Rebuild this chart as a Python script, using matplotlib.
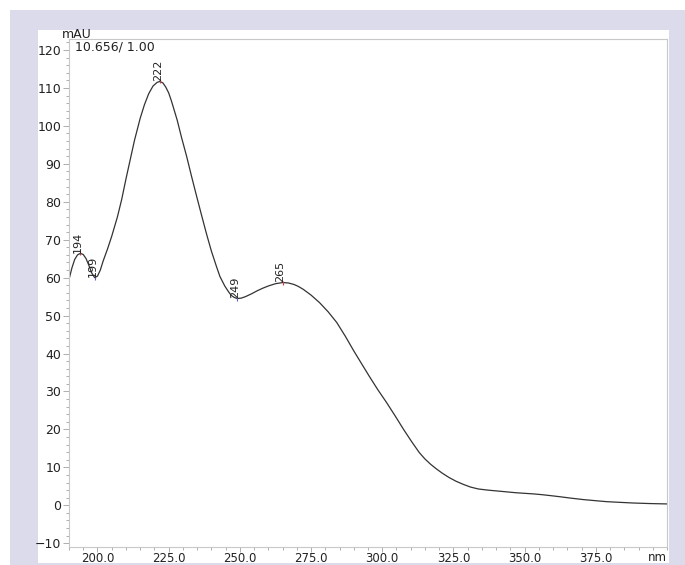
import matplotlib
matplotlib.use('Agg')
import matplotlib.pyplot as plt
from matplotlib.patches import Rectangle
from matplotlib.ticker import MultipleLocator, FixedLocator

# spectrum (nm, mAU)
wavelength = [190, 191, 192, 193, 194, 195, 196, 197, 198, 199, 200, 201, 202, 203.5,
              205, 207, 208.5, 210, 211.5, 213, 215, 216.5, 218, 219.5, 221, 222,
              223, 224, 225, 226, 228, 229.5, 231.3, 233, 234.8, 236.5, 238.3, 240,
              241.8, 243, 244.7, 246, 247, 248, 249, 250.5, 252, 254, 256, 258, 260,
              262.5, 265, 267, 269, 270.5, 272.3, 275, 278, 281, 284, 287, 290, 293,
              295.7, 298.5, 301.5, 304.5, 307.4, 310.3, 313, 315, 317, 319, 321,
              323.5, 326, 328.5, 331, 333.7, 337, 341.3, 347, 353, 356, 359, 362.4,
              366, 370.6, 375, 378.8, 384, 388, 394, 400]
absorb = [59.5, 62.5, 64.8, 66.0, 66.4, 66.1, 65.0, 63.2, 61.2, 60.0, 60.4, 62.0, 64.4, 67.5,
          70.9, 76.0, 80.6, 86.0, 91.1, 96.2, 102.0, 105.6, 108.5, 110.5, 111.5, 111.7,
          111.3, 110.2, 108.7, 106.5, 101.5, 97.0, 92.0, 86.8, 81.5, 76.6, 71.5, 67.0,
          62.9, 60.3, 57.8, 56.3, 55.3, 54.8, 54.5, 54.6, 55.0, 55.7, 56.5, 57.2, 57.8,
          58.4, 58.7, 58.6, 58.2, 57.7, 56.9, 55.4, 53.4, 51.0, 48.2, 44.6, 40.7, 37.0,
          33.7, 30.4, 27.1, 23.6, 20.1, 16.8, 13.9, 12.2, 10.8, 9.6, 8.5,
          7.3, 6.3, 5.5, 4.8, 4.3, 4.0, 3.7, 3.3, 3.0, 2.8, 2.55, 2.25,
          1.9, 1.5, 1.2, 0.95, 0.75, 0.6, 0.45, 0.35]

peak_nm = [194, 222, 265]
valley_nm = [199, 249]
x_ticks = [200, 225, 250, 275, 300, 325, 350, 375]

W, H = 685, 565
fig = plt.figure(figsize=(W / 100, H / 100), dpi=100)
fig.patch.set_facecolor('white')
# lavender frame and white panel
fig.add_artist(Rectangle((10 / W, 0), 1 - 10 / W, 555 / H, transform=fig.transFigure,
                         facecolor='#dcdbeb', edgecolor='none', zorder=0))
fig.add_artist(Rectangle((38 / W, 2 / H), (669 - 38) / W, (535 - 2) / H, transform=fig.transFigure,
                         facecolor='white', edgecolor='none', zorder=0))

ax = fig.add_axes([69 / W, 1 - 547 / H, (667 - 69) / W, (547 - 39) / H])
ax.set_facecolor('white')
ax.set_zorder(2)

ax.plot(wavelength, absorb, color='#333333', lw=0.9)

for nm in peak_nm + valley_nm:
    v = absorb[wavelength.index(nm)]
    col = '#d04040' if nm in peak_nm else '#6060c0'
    ax.plot(nm, v, marker='|', ms=2.5, color=col, mew=0.8)
    ax.annotate(str(nm), xy=(nm, v), xytext=(-1.5, 0.5), textcoords='offset points',
                rotation=90, ha='center', va='bottom', fontsize=8, color='#222222')

ax.set_xlim(190, 400)
ax.set_ylim(-11, 122.9)
ax.xaxis.set_major_locator(FixedLocator(x_ticks))
ax.set_xticklabels(['%.1f' % t for t in x_ticks])
ax.xaxis.set_minor_locator(MultipleLocator(5))
ax.yaxis.set_major_locator(MultipleLocator(10))
ax.yaxis.set_minor_locator(MultipleLocator(2))

for s in ax.spines.values():
    s.set_color('#c8c8c8')
    s.set_linewidth(0.8)

ax.tick_params(axis='both', which='both', color='#a0a0a0', labelcolor='#222222',
               labelsize=9, width=0.6)
ax.tick_params(axis='y', which='major', length=4, pad=1.5)
ax.tick_params(axis='y', which='minor', length=2.5)
ax.tick_params(axis='x', which='major', length=3.5, pad=0.3, labelsize=8.5)
ax.tick_params(axis='x', which='minor', length=2.2)

ax.text(1.0, -0.008, 'nm', transform=ax.transAxes, ha='right', va='top',
        fontsize=8.5, color='#222222')
fig.text(62 / W, 1 - 38 / H, 'mAU', ha='left', va='baseline', fontsize=9, color='#222222', zorder=5)
fig.text(75 / W, 1 - 50 / H, '10.656/ 1.00', ha='left', va='baseline', fontsize=9,
         color='#222222', zorder=5)

fig.savefig('out.png', dpi=100, facecolor=fig.get_facecolor())
